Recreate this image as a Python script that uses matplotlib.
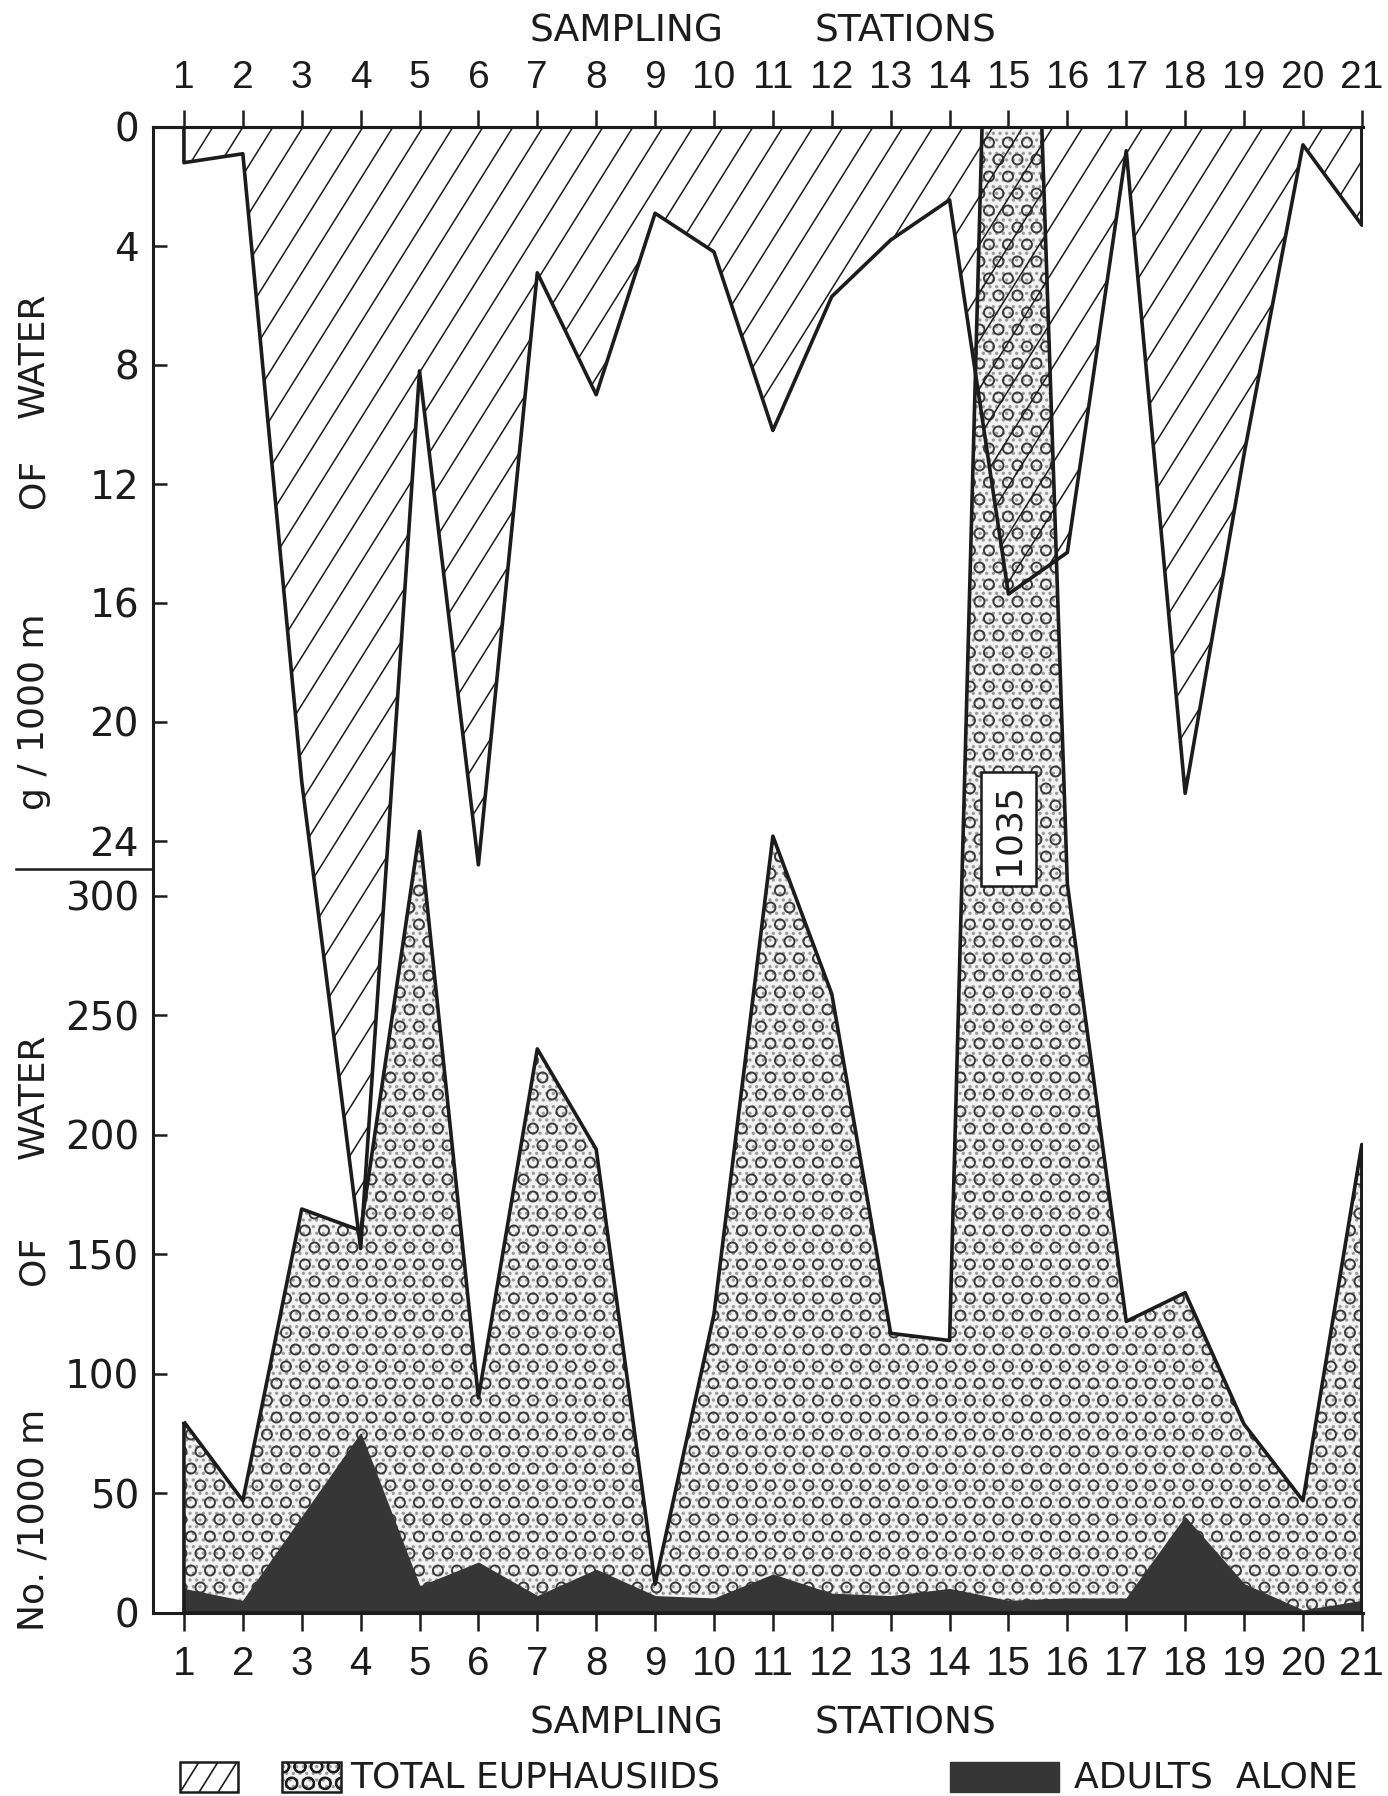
import matplotlib
matplotlib.use("Agg")
import matplotlib.pyplot as plt
from matplotlib.collections import LineCollection
from matplotlib.patches import Rectangle
from matplotlib.lines import Line2D
import numpy as np

plt.rcParams['font.family'] = 'DejaVu Sans'
plt.rcParams['hatch.linewidth'] = 0.7

# --- data
stations = list(range(1, 22))
# biomass, g / 1000 m^3 of water (drawn downwards from the top axis)
biomass_g = [1.2, 0.9, 22.0, 37.7, 8.2, 24.8, 4.9, 9.0, 2.9, 4.2, 10.2,
             5.7, 3.8, 2.45, 15.7, 14.3, 0.8, 22.4, 11.0, 0.6, 3.3]
# total euphausiids, No. / 1000 m^3 (station 15 is off scale: 1035)
total_no = [80, 47, 169, 160, 327, 90, 236, 194, 12, 125, 325,
            259, 117, 114, 1035, 305, 122, 134, 79, 47, 196]
# adults alone, No. / 1000 m^3
adults_no = [10, 5, 40, 75, 11, 21, 7, 18, 7, 6, 16,
             8, 7, 10, 5, 6, 6, 40, 12, 1, 5]

g_ticks = [0, 4, 8, 12, 16, 20, 24]
no_ticks = [0, 50, 100, 150, 200, 250, 300]
off_scale_label = "1035"

INK = '#1c1c1c'
DARK = '#363636'
DPI = 200
NUMFONT = ['Liberation Sans', 'DejaVu Sans']

fig = plt.figure(figsize=(6.94, 8.98), dpi=DPI)
fig.patch.set_facecolor('white')

ax = fig.add_axes([0.1102, 0.1019, 0.8718, 0.8274])
ax.set_xlim(0.474, 21.02)
ax.set_ylim(0, 621.7)
axg = ax.twinx()
axg.set_ylim(49.95, 0)

# --- spines
for s in ['left', 'bottom', 'top']:
    ax.spines[s].set_linewidth(1.1)
    ax.spines[s].set_color(INK)
ax.spines['right'].set_visible(False)
for s in axg.spines.values():
    s.set_visible(False)

# --- ticks
ax.set_yticks(no_ticks)
ax.tick_params(axis='y', direction='in', length=5, width=0.9, pad=5,
               labelsize=14, colors=INK)
axg.yaxis.tick_left()
axg.set_yticks(g_ticks)
axg.tick_params(axis='y', left=True, right=False, labelleft=True,
                labelright=False, direction='in', length=5, width=0.9,
                pad=5, labelsize=14, colors=INK)

ax.set_xticks(stations)
ax.set_xticklabels([str(s) for s in stations], fontfamily=NUMFONT)
ax.tick_params(axis='x', direction='out', length=6.5, width=0.9, pad=5,
               labelsize=14.5, colors=INK)
sec = ax.secondary_xaxis('top')
sec.set_xticks(stations)
sec.set_xticklabels([str(s) for s in stations], fontfamily=NUMFONT)
sec.tick_params(direction='out', length=6, width=0.9, pad=5,
                labelsize=14, colors=INK)
sec.spines['top'].set_linewidth(1.1)

pos = ax.get_position()
W = pos.width * fig.get_figwidth() * DPI
H = pos.height * fig.get_figheight() * DPI

# --- total euphausiids: stipple + open circles
ax.fill_between(stations, 0, total_no, facecolor='#f2f2f2', edgecolor='#9a9a9a',
                hatch='.....', linewidth=0, zorder=1)
tot_path = ax.fill_between(stations, 0, total_no, facecolor='none', edgecolor=INK,
                           linewidth=1.3, zorder=3).get_paths()[0]

# staggered grid of small open circles (texture only), clipped to the area
cx, cy = 19.0 / W, 17.0 / H
gx, gy = [], []
for j, yy in enumerate(np.arange(cy / 2, 1.0, cy)):
    for xx in np.arange((cx / 2) * (j % 2), 1.0, cx):
        gx.append(xx)
        gy.append(yy)
circ = ax.scatter(gx, gy, s=13, marker='o', facecolors='none',
                  edgecolors='#3a3a3a', linewidths=0.7,
                  transform=ax.transAxes, zorder=1.5)
circ.set_clip_path(tot_path, ax.transData)

ax.fill_between(stations, 0, adults_no, facecolor=DARK,
                edgecolor=DARK, linewidth=0.5, zorder=2)

# --- biomass polygon with steep hand-drawn style hatching
poly_g = axg.fill_between(stations, 0, biomass_g, facecolor='none',
                          edgecolor=INK, linewidth=1.3, zorder=4)
slope = 1.6          # pixel slope of the hatch strokes
step = 30.0 / W      # ~30 px between strokes
run = H / (slope * W)
segs = [[(x0, 0), (x0 + run, 1)] for x0 in np.arange(-run, 1.0, step)]
lc = LineCollection(segs, colors=INK, linewidths=0.55,
                    transform=axg.transAxes, zorder=3.5)
axg.add_collection(lc)
lc.set_clip_path(poly_g.get_paths()[0], axg.transData)

# off-scale value at station 15
ax.text(15, 328, off_scale_label, rotation=90, ha='center', va='center',
        fontsize=13, color=INK, zorder=6,
        bbox=dict(boxstyle='square,pad=0.3', fc='white', ec=INK, lw=0.9))

# --- axis titles
for yy in [0.9822, 0.0406]:
    fig.text(627 / 1388, yy, "SAMPLING", ha='center', va='center',
             fontsize=13.5, color=INK)
    fig.text(905 / 1388, yy, "STATIONS", ha='center', va='center',
             fontsize=13.5, color=INK)

xl = 34 / 1388
for txt, yy in [("g / 1000 m", 0.6036), ("OF", 0.7311), ("WATER", 0.8023),
                ("No. /1000 m", 0.1537), ("OF", 0.2984), ("WATER", 0.3898)]:
    fig.text(xl, yy, txt, rotation=90, ha='center', va='center',
             fontsize=13, color=INK)

# divider between the two y scales
fig.add_artist(Line2D([16 / 1388, 153 / 1388], [1 - 869 / 1796] * 2,
                      transform=fig.transFigure, color=INK, lw=0.9))

# --- legend along the bottom
bh = 30 / 1796
by = 1 - 1792 / 1796
FW = fig.get_figwidth() * DPI
FH = fig.get_figheight() * DPI

box_h = Rectangle((180 / 1388, by), 58 / 1388, bh, transform=fig.transFigure,
                  facecolor='white', edgecolor=INK, lw=0.9)
fig.add_artist(box_h)
lrun = (bh * FH / 1.6) / FW
lstep = 19.0 / FW
lsegs = [[(x0, by), (x0 + lrun, by + bh)]
         for x0 in np.arange(180 / 1388 - lrun, 238 / 1388, lstep)]
llc = LineCollection(lsegs, colors=INK, linewidths=0.6, transform=fig.transFigure)
fig.add_artist(llc)
llc.set_clip_path(box_h)

fig.add_artist(Rectangle((282 / 1388, by), 59 / 1388, bh, transform=fig.transFigure,
                         facecolor='#f2f2f2', edgecolor='#9a9a9a', hatch='.....', lw=0))
fig.add_artist(Rectangle((282 / 1388, by), 59 / 1388, bh, transform=fig.transFigure,
                         facecolor='none', edgecolor=INK, hatch='OO', lw=0.9))
fig.text(350 / 1388, by + bh / 2, "TOTAL EUPHAUSIIDS", ha='left', va='center',
         fontsize=13, color=INK)
fig.add_artist(Rectangle((950 / 1388, by), 109 / 1388, bh, transform=fig.transFigure,
                         facecolor=DARK, edgecolor=DARK, lw=0.5))
fig.text(1074 / 1388, by + bh / 2, "ADULTS  ALONE", ha='left', va='center',
         fontsize=13, color=INK)

fig.savefig("out.png", dpi=DPI, facecolor=fig.get_facecolor())
